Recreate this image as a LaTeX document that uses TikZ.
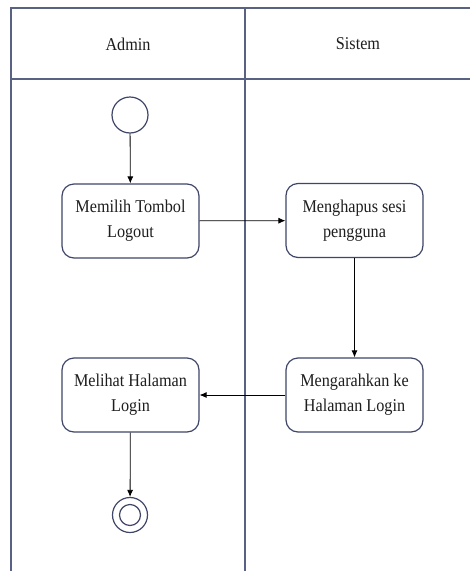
\documentclass[tikz,border=0pt]{standalone}
\usepackage{fontspec}
\setmainfont{Liberation Serif}
\newfontfamily\diagfont[FakeStretch=0.9]{Liberation Serif}
\usetikzlibrary{arrows.meta}
\definecolor{lane}{HTML}{5A6284}
\definecolor{boxline}{HTML}{3F4668}
\definecolor{ink}{HTML}{1E1E1E}
\tikzset{
  lanestyle/.style={draw=lane, line width=1.4pt},
  actbox/.style={draw=boxline, line width=1.2pt, rounded corners=12pt,
    minimum width=137pt, minimum height=74pt, align=center, inner sep=2pt,
    text=ink, font=\diagfont\fontsize{18}{25}\selectfont},
  lanetitle/.style={text=ink, font=\diagfont\fontsize{18}{20}\selectfont},
  flow/.style={draw=black, line width=0.8pt, -{Latex[length=7pt,width=6pt]}},
  startnode/.style={circle, draw=boxline, line width=1.2pt, minimum size=36pt, inner sep=0pt},
  endring/.style={circle, draw=boxline, line width=1.2pt, inner sep=0pt},
}
\begin{document}
\begin{tikzpicture}[x=1pt, y=-1pt]
\useasboundingbox (0,0) rectangle (470,571);
\fill[white] (0,0) rectangle (470,571);

% swimlane frame
\draw[lanestyle] (11,571) -- (11,8) -- (471,8);
\draw[lanestyle] (11,79) -- (471,79);
\draw[lanestyle] (245,8) -- (245,571);

\node[lanetitle] (adminlane) at (128,44) {Admin};
\node[lanetitle] (sistemlane) at (358,44) {Sistem};

% activities
\node[startnode] (start) at (130,115) {};
\node[actbox] (pilih) at (130.5,221) {Memilih Tombol\\Logout};
\node[actbox] (hapus) at (354.5,220.5) {Menghapus sesi\\pengguna};
\node[actbox] (arah) at (354.5,395) {Mengarahkan ke\\Halaman Login};
\node[actbox] (lihat) at (130.5,395) {Melihat Halaman\\Login};

% final node
\node[endring, minimum size=35pt] (akhir) at (130,515) {};
\node[endring, minimum size=21pt] (akhirdalam) at (130,515) {};

% control flow
\draw[flow] (start) -- (pilih);
\draw[flow] (pilih) -- (hapus);
\draw[flow] (hapus) -- (arah);
\draw[flow] (arah) -- (lihat);
\draw[flow] (lihat) -- (akhir);
\end{tikzpicture}
\end{document}
